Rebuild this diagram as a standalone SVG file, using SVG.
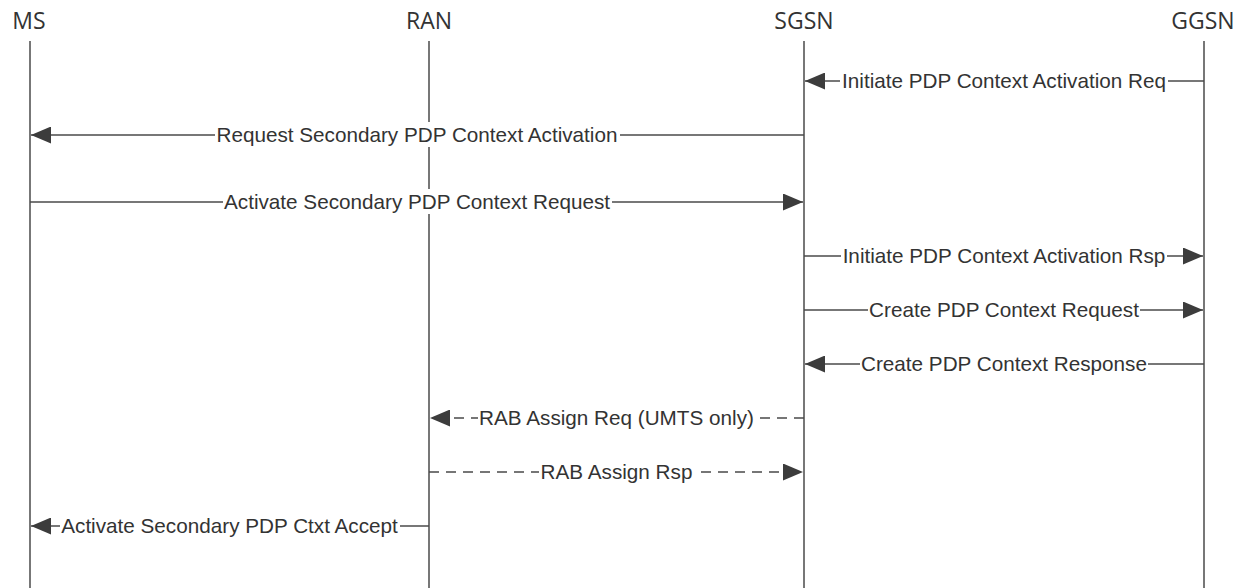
<svg xmlns="http://www.w3.org/2000/svg" width="1241" height="588" viewBox="0 0 1241 588">
<style>
.hdr{font-family:"Open Sans","Liberation Sans",sans-serif;font-size:23px;fill:#333;text-anchor:middle}
.life{stroke:#4a4a4a;stroke-width:1.5;fill:none}
.msg{stroke:#4a4a4a;stroke-width:1.5;fill:none;marker-end:url(#ah)}
.dash{stroke-dasharray:10 7}
.lbl{font-family:"Liberation Sans",Arial,sans-serif;font-size:20.7px;fill:#333;text-anchor:middle}
.bg{fill:#fff}
</style>
<defs>
<marker id="ah" markerWidth="20" markerHeight="17" refX="20" refY="8.5" orient="auto" markerUnits="userSpaceOnUse">
<path d="M0,0 L20,8.5 L0,17 Z" fill="#3c3c3c"/>
</marker>
</defs>
<rect width="1241" height="588" fill="#fff"/>
<g id="MS"><text class="hdr" x="29" y="29">MS</text><line class="life" x1="30" y1="41" x2="30" y2="588"/></g>
<g id="RAN"><text class="hdr" x="429" y="29">RAN</text><line class="life" x1="429" y1="41" x2="429" y2="588"/></g>
<g id="SGSN"><text class="hdr" x="804" y="29">SGSN</text><line class="life" x1="804" y1="41" x2="804" y2="588"/></g>
<g id="GGSN"><text class="hdr" x="1203" y="29">GGSN</text><line class="life" x1="1204" y1="41" x2="1204" y2="588"/></g>
<g id="connectors">
<g id="m1"><line class="msg" x1="1204" y1="81" x2="805" y2="81"/><rect class="bg" x="840" y="68" width="328" height="25"/><text class="lbl" x="1004" y="88">Initiate PDP Context Activation Req</text></g>
<g id="m2"><line class="msg" x1="804" y1="135" x2="31" y2="135"/><rect class="bg" x="215" y="122" width="405" height="25"/><text class="lbl" x="417" y="142">Request Secondary PDP Context Activation</text></g>
<g id="m3"><line class="msg" x1="30" y1="202" x2="803" y2="202"/><rect class="bg" x="223" y="189" width="389" height="25"/><text class="lbl" x="417" y="209">Activate Secondary PDP Context Request</text></g>
<g id="m4"><line class="msg" x1="804" y1="256" x2="1203" y2="256"/><rect class="bg" x="841" y="243" width="326" height="25"/><text class="lbl" x="1004" y="263">Initiate PDP Context Activation Rsp</text></g>
<g id="m5"><line class="msg" x1="804" y1="310" x2="1203" y2="310"/><rect class="bg" x="868" y="297" width="272" height="25"/><text class="lbl" x="1004" y="317">Create PDP Context Request</text></g>
<g id="m6"><line class="msg" x1="1204" y1="364" x2="805" y2="364"/><rect class="bg" x="860" y="351" width="288" height="25"/><text class="lbl" x="1004" y="371">Create PDP Context Response</text></g>
<g id="m7"><line class="msg dash" x1="804" y1="418" x2="430" y2="418"/><rect class="bg" x="478" y="405" width="278" height="25"/><text class="lbl" x="616.5" y="425">RAB Assign Req (UMTS only)</text></g>
<g id="m8"><line class="msg dash" x1="429" y1="472" x2="803" y2="472"/><rect class="bg" x="539" y="459" width="155" height="25"/><text class="lbl" x="616.5" y="479">RAB Assign Rsp</text></g>
<g id="m9"><line class="msg" x1="429" y1="526" x2="31" y2="526"/><rect class="bg" x="60" y="513" width="340" height="25"/><text class="lbl" x="229.5" y="533">Activate Secondary PDP Ctxt Accept</text></g>
</g>
</svg>
